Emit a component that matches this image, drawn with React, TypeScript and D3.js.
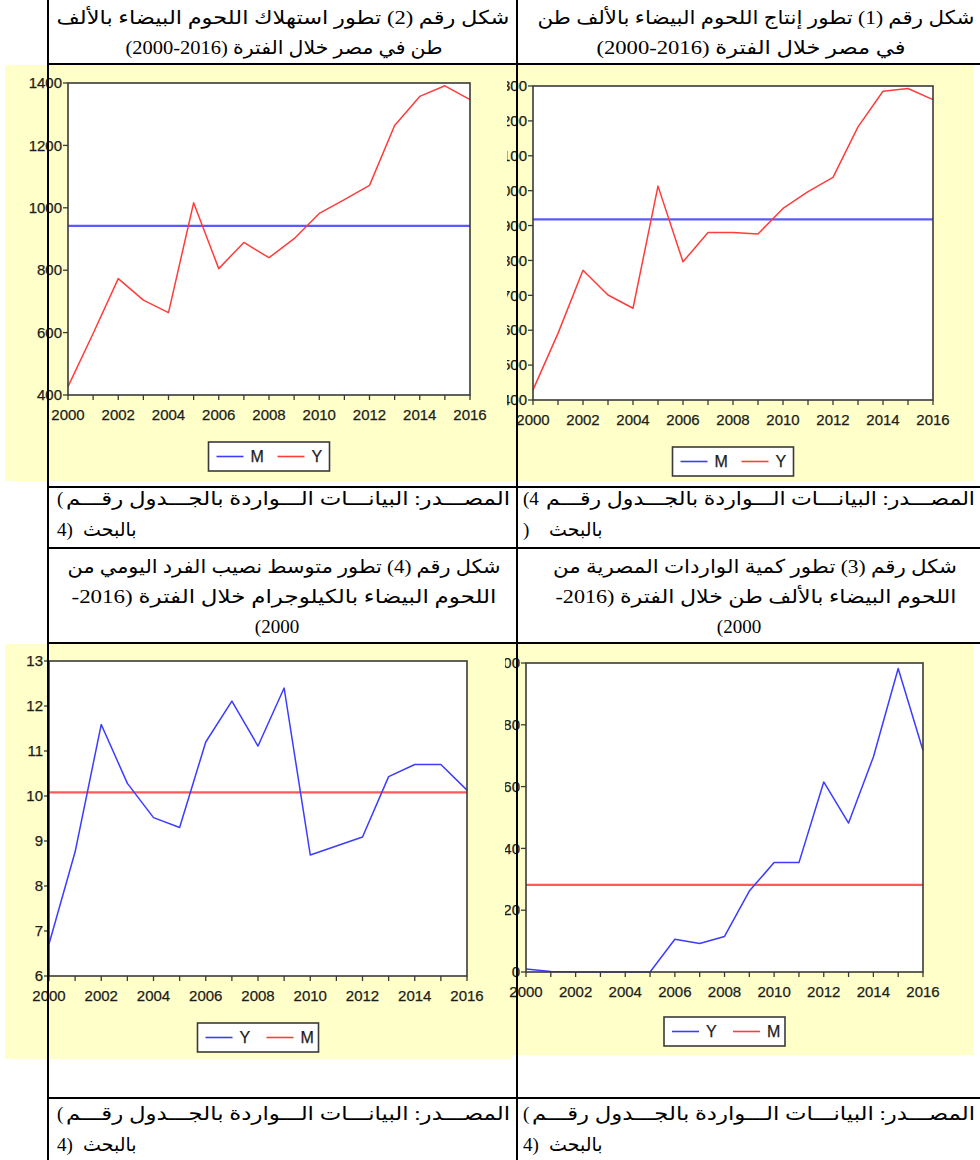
import React from "react";
import * as d3 from "d3";

// years on the x axis
const years = [2000, 2001, 2002, 2003, 2004, 2005, 2006, 2007, 2008, 2009, 2010, 2011, 2012, 2013, 2014, 2015, 2016];
const yearTicks = [2000, 2002, 2004, 2006, 2008, 2010, 2012, 2014, 2016];

// chart 1: production (thousand tons)
const productionY = [429, 591, 772, 701, 663, 1013, 796, 880, 880, 876, 949, 997, 1038, 1183, 1285, 1293, 1261];
const productionMean = 918;
const productionTicks = [400, 500, 600, 700, 800, 900, 1000, 1100, 1200, 1300];

// chart 2: consumption (thousand tons)
const consumptionY = [427, 597, 773, 704, 664, 1016, 805, 889, 840, 901, 982, 1026, 1072, 1264, 1357, 1391, 1347];
const consumptionMean = 942;
const consumptionTicks = [400, 600, 800, 1000, 1200, 1400];

// chart 3: imports (thousand tons)
const importsY = [1.0, 0.2, 0, 0, 0, 0, 10.6, 9.2, 11.5, 26.2, 35.4, 35.4, 61.5, 48.2, 69.6, 98.2, 71.7];
const importsMean = 28.2;
const importsTicks = [0, 20, 40, 60, 80, 100];

// chart 4: daily per capita share (kg)
const perCapitaY = [6.71, 8.76, 11.59, 10.28, 9.52, 9.3, 11.2, 12.11, 11.11, 12.4, 8.69, 8.89, 9.09, 10.43, 10.7, 10.7, 10.13];
const perCapitaMean = 10.08;
const perCapitaTicks = [6, 7, 8, 9, 10, 11, 12, 13];

// table texts
const title1 = ["شكل رقم (1) تطور إنتاج اللحوم البيضاء بالألف طن", "في مصر خلال الفترة (2016-2000)"];
const title2 = ["شكل رقم (2) تطور استهلاك اللحوم البيضاء بالألف", "طن في مصر خلال الفترة (2016-2000)"];
const title3 = ["شكل رقم (3) تطور كمية الواردات المصرية من", "اللحوم البيضاء بالألف طن خلال الفترة (2016-", "2000)"];
const title4 = ["شكل رقم (4) تطور متوسط نصيب الفرد اليومي من", "اللحوم البيضاء بالكيلوجرام خلال الفترة (2016-", "2000)"];
const sourceText = "المصـــدر: البيانـــات الـــواردة بالجـــدول رقـــم";
const sourceEnd = "بالبحث";

const YELLOW = "#ffffc9";
const BLUE = "#3c3cff";
const RED = "#ff3c3c";
const AXIS_FONT = "'Liberation Sans', Arial, sans-serif";
const AR_FONT = "'Liberation Serif', 'DejaVu Sans', serif";
// left-to-right override, so brackets are not mirrored
const ltr = (s: string) => "\u202D" + s + "\u202C";

type LegendItem = { label: string; color: string };

function Panel(props: {
  id: string;
  box: number[];
  plot: number[];
  yDomain: number[];
  yTicks: number[];
  series: number[];
  mean: number;
  seriesColor: string;
  meanColor: string;
  legend: LegendItem[];
  legendGap: number;
}) {
  const { id, box, plot, yDomain, yTicks, series, mean, seriesColor, meanColor, legend, legendGap } = props;
  const [l, t, r, b] = plot;
  const x = d3.scaleLinear().domain([years[0], years[years.length - 1]]).range([l, r]);
  const y = d3.scaleLinear().domain(yDomain).range([b, t]);
  const line = d3
    .line<number>()
    .x((d, i) => x(years[i]))
    .y((d) => y(d));

  const lgW = 121;
  const lgH = 29;
  const lgX = (l + r) / 2 - lgW / 2;
  const lgY = b + legendGap;
  const label = { fontFamily: AXIS_FONT, fontSize: 15, fill: "#1c1c1c", stroke: "#1c1c1c", strokeWidth: 0.25 };

  return (
    <g>
      <defs>
        <clipPath id={id}>
          <rect x={box[0]} y={box[1]} width={box[2] - box[0]} height={box[3] - box[1]} />
        </clipPath>
      </defs>
      <g clipPath={`url(#${id})`}>
        <rect x={box[0]} y={box[1]} width={box[2] - box[0]} height={box[3] - box[1]} fill={YELLOW} />
        <rect x={l} y={t} width={r - l} height={b - t} fill="#fff" />
        <line x1={x(years[0])} x2={x(years[years.length - 1])} y1={y(mean)} y2={y(mean)} stroke={meanColor} strokeWidth={2.2} strokeOpacity={0.85} />
        <path d={line(series) || ""} fill="none" stroke={seriesColor} strokeWidth={1.5} strokeLinejoin="round" />
        <rect x={l} y={t} width={r - l} height={b - t} fill="none" stroke="#3a3a3a" strokeWidth={1.6} />
        {years.map((yr) => (
          <line key={yr} x1={x(yr)} x2={x(yr)} y1={b} y2={b + 5} stroke="#3a3a3a" strokeWidth={1.3} />
        ))}
        {yearTicks.map((yr) => (
          <text key={yr} x={x(yr)} y={b + 25} textAnchor="middle" {...label}>
            {yr}
          </text>
        ))}
        {yTicks.map((v) => (
          <g key={v}>
            <line x1={l - 5} x2={l} y1={y(v)} y2={y(v)} stroke="#3a3a3a" strokeWidth={1.3} />
            <text x={l - 6} y={y(v)} dy="0.35em" textAnchor="end" {...label}>
              {v}
            </text>
          </g>
        ))}
        <rect x={lgX} y={lgY} width={lgW} height={lgH} fill="#fff" stroke="#3a3a3a" strokeWidth={1.6} />
        {legend.map((it, i) => (
          <g key={it.label} transform={`translate(${lgX + 8 + i * 61},${lgY + lgH / 2})`}>
            <line x1={0} x2={27} y1={0} y2={0} stroke={it.color} strokeWidth={1.6} />
            <text x={34} y={0} dy="0.36em" {...label} fontSize={16}>
              {it.label}
            </text>
          </g>
        ))}
      </g>
    </g>
  );
}

function ArLine(props: { x: number; y: number; text: string; width?: number; rtl?: boolean; anchor?: string }) {
  const { x, y, text, width, rtl, anchor } = props;
  return (
    <text
      x={x}
      y={y}
      fontFamily={AR_FONT}
      fontSize={19}
      fill="#000"
      textAnchor={anchor || "middle"}
      style={{ direction: rtl ? "rtl" : "ltr" }}
      textLength={width}
      lengthAdjust={width ? "spacingAndGlyphs" : undefined}
    >
      {text}
    </text>
  );
}

// source note: the "(4)" pieces sit at the left, the Arabic to their right
function Source(props: { left: number; y: number; right: number; lead1: string; lead2: string }) {
  const { left, y, right, lead1, lead2 } = props;
  const leadW = lead1.length > 1 ? 23 : 9;
  return (
    <g>
      <ArLine x={left} y={y} text={ltr(lead1)} anchor="start" />
      <ArLine x={left + leadW} y={y} text={sourceText} width={right - left - leadW} anchor="start" />
      <ArLine x={left} y={y + 31} text={ltr(lead2)} anchor="start" />
      <ArLine x={left + 26} y={y + 31} text={sourceEnd} anchor="start" />
    </g>
  );
}

export default function App() {
  const blueRed: LegendItem[] = [
    { label: "M", color: BLUE },
    { label: "Y", color: RED },
  ];
  const blueRedY: LegendItem[] = [
    { label: "Y", color: BLUE },
    { label: "M", color: RED },
  ];

  return (
    <svg width={980} height={1160} style={{ position: "absolute", left: 0, top: 0, background: "#fff" }}>
      {/* chart images */}
      <Panel
        id="p1"
        box={[5, 65, 512, 481]}
        plot={[68, 83, 470, 395]}
        yDomain={[400, 1400]}
        yTicks={consumptionTicks}
        series={consumptionY}
        mean={consumptionMean}
        seriesColor={RED}
        meanColor={BLUE}
        legend={blueRed}
        legendGap={47}
      />
      <Panel
        id="p2"
        box={[507, 65, 974, 481]}
        plot={[533, 86, 933, 400]}
        yDomain={[400, 1300]}
        yTicks={productionTicks}
        series={productionY}
        mean={productionMean}
        seriesColor={RED}
        meanColor={BLUE}
        legend={blueRed}
        legendGap={47}
      />
      <Panel
        id="p3"
        box={[5, 644, 512, 1059]}
        plot={[49, 661, 467, 976]}
        yDomain={[6, 13]}
        yTicks={perCapitaTicks}
        series={perCapitaY}
        mean={perCapitaMean}
        seriesColor={BLUE}
        meanColor={RED}
        legend={blueRedY}
        legendGap={47}
      />
      <Panel
        id="p4"
        box={[505, 644, 974, 1055]}
        plot={[526, 663, 923, 972]}
        yDomain={[0, 100]}
        yTicks={importsTicks}
        series={importsY}
        mean={importsMean}
        seriesColor={BLUE}
        meanColor={RED}
        legend={blueRedY}
        legendGap={45}
      />

      {/* table rules */}
      <g stroke="#000" strokeWidth={2}>
        <line x1={48} x2={48} y1={0} y2={1160} />
        <line x1={517} x2={517} y1={0} y2={1160} />
        <line x1={48} x2={980} y1={64} y2={64} />
        <line x1={48} x2={980} y1={487} y2={487} />
        <line x1={48} x2={980} y1={548} y2={548} />
        <line x1={48} x2={980} y1={643} y2={643} />
        <line x1={48} x2={980} y1={1098} y2={1098} />
      </g>

      {/* titles */}
      <ArLine x={756} y={24} text={title1[0]} width={437} rtl />
      <ArLine x={751} y={54} text={title1[1]} width={309} rtl />
      <ArLine x={283} y={24} text={title2[0]} width={453} rtl />
      <ArLine x={284} y={54} text={title2[1]} width={317} rtl />
      <ArLine x={755} y={573} text={title3[0]} width={404} rtl />
      <ArLine x={756} y={603} text={title3[1]} width={401} rtl />
      <ArLine x={739} y={633} text={title3[2]} rtl />
      <ArLine x={284} y={573} text={title4[0]} width={433} rtl />
      <ArLine x={284} y={603} text={title4[1]} width={425} rtl />
      <ArLine x={277} y={633} text={title4[2]} rtl />

      {/* sources */}
      <Source left={523} right={975} y={505} lead1="(4" lead2=")" />
      <Source left={57} right={510} y={505} lead1="(" lead2="4)" />
      <Source left={523} right={975} y={1120} lead1="(" lead2="4)" />
      <Source left={57} right={510} y={1120} lead1="(" lead2="4)" />
    </svg>
  );
}
